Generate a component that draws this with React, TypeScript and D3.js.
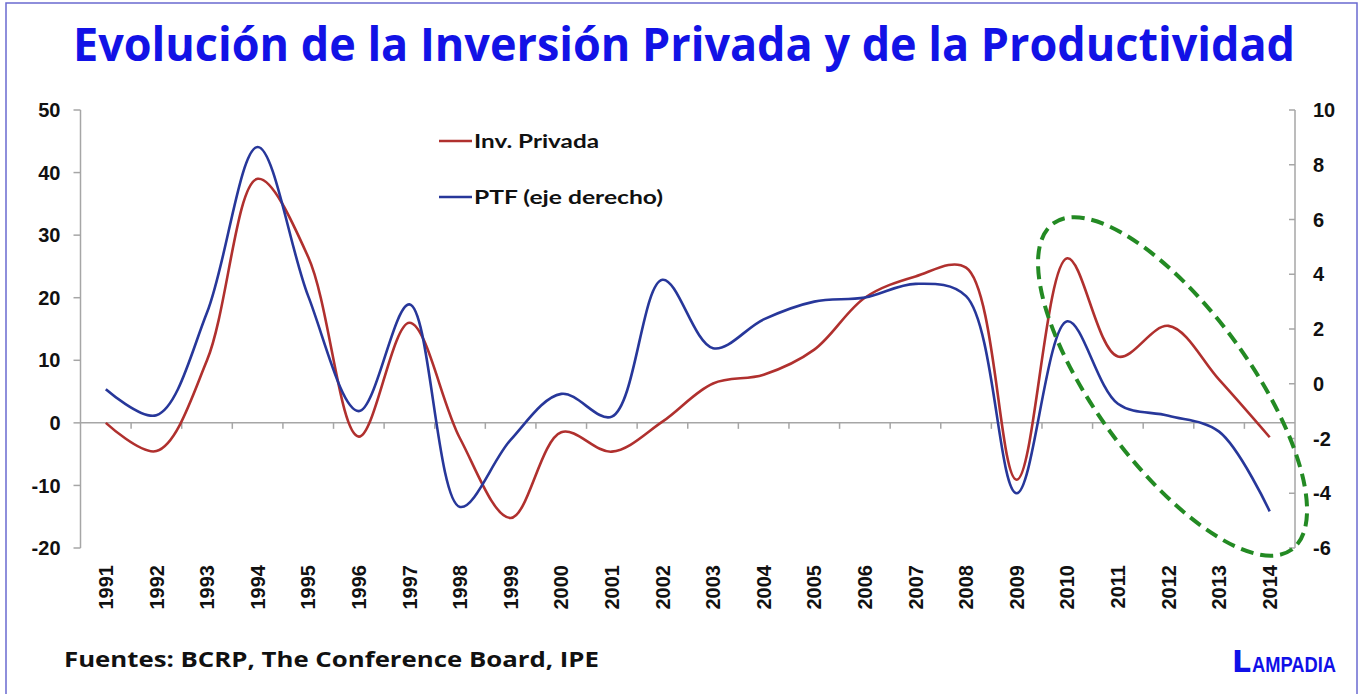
import React from "react";
import * as d3 from "d3";

const years = [
  "1991", "1992", "1993", "1994", "1995", "1996", "1997", "1998", "1999", "2000", "2001", "2002",
  "2003", "2004", "2005", "2006", "2007", "2008", "2009", "2010", "2011", "2012", "2013", "2014",
];

// Inversión privada, % var. (eje izquierdo)
const invPrivada = [
  0, -4.5, 10, 39, 26.5, -2.2, 16, -2.5, -15.2, -1.5, -4.6, 0.2,
  6.3, 7.7, 11.7, 20, 23.4, 24.8, -9.1, 26.3, 10.6, 15.5, 6.9, -2.3,
];

// PTF (eje derecho)
const ptf = [
  -0.2, -1.15, 2.6, 8.65, 3.2, -1.0, 2.9, -4.5, -2.05, -0.37, -1.2, 3.8,
  1.3, 2.35, 3.0, 3.15, 3.65, 3.2, -4.0, 2.28, -0.73, -1.17, -1.75, -4.66,
];

const leftTicks = [-20, -10, 0, 10, 20, 30, 40, 50];
const rightTicks = [-6, -4, -2, 0, 2, 4, 6, 8, 10];

const W = 1363;
const H = 694;
const RED = "#b0302e";
const BLUE = "#27379a";
const AXIS = "#a6a6a6";
const TICK_FONT = "'Liberation Sans', Arial, sans-serif";

const App: React.FC = () => {
  const left = 80.5;
  const right = 1295;
  const top = 110;
  const bottom = 548;

  const x = d3.scaleBand<string>().domain(years).range([left, right]).padding(0);
  const xc = (yr: string) => (x(yr) ?? 0) + x.bandwidth() / 2;
  const yL = d3.scaleLinear().domain([-20, 50]).range([bottom, top]);
  const yR = d3.scaleLinear().domain([-6, 10]).range([bottom, top]);

  const curve = d3.curveCatmullRom.alpha(0.5);
  const redLine = d3
    .line<number>()
    .x((_, i) => xc(years[i]))
    .y((d) => yL(d))
    .curve(curve);
  const blueLine = d3
    .line<number>()
    .x((_, i) => xc(years[i]))
    .y((d) => yR(d))
    .curve(curve);

  const zeroY = yL(0);

  // elipse de resalte 2010-2014
  const ex = xc("2012") + x.bandwidth() * 0.08;
  const ey = yR(-0.1);

  return (
    <svg
      width={W}
      height={H}
      style={{ position: "absolute", left: 0, top: 0, background: "#fff" }}
    >
      <rect x={6} y={3} width={1351} height={H + 10} fill="#fff" stroke="#6a6ad0" strokeWidth={1.5} />

      <text
        x={73}
        y={61}
        fontFamily="'Open Sans', 'Noto Sans', sans-serif"
        fontWeight={700}
        fontSize={46}
        fill="#1212e6"
        textLength={1222}
        lengthAdjust="spacingAndGlyphs"
      >
        Evolución de la Inversión Privada y de la Productividad
      </text>

      {/* eje izquierdo */}
      <line x1={left} x2={left} y1={top} y2={bottom} stroke={AXIS} strokeWidth={1.5} />
      {leftTicks.map((t) => (
        <g key={"l" + t}>
          <line x1={left - 7} x2={left} y1={yL(t)} y2={yL(t)} stroke={AXIS} strokeWidth={1.5} />
          <text
            x={left - 20}
            y={yL(t)}
            dy="0.36em"
            textAnchor="end"
            fontFamily={TICK_FONT}
            fontWeight="bold"
            fontSize={20}
            fill="#111"
          >
            {t}
          </text>
        </g>
      ))}

      {/* eje derecho */}
      <line x1={right} x2={right} y1={top} y2={bottom} stroke={AXIS} strokeWidth={1.5} />
      {rightTicks.map((t) => (
        <g key={"r" + t}>
          <line x1={right - 6} x2={right} y1={yR(t)} y2={yR(t)} stroke={AXIS} strokeWidth={1.5} />
          <text
            x={right + 18}
            y={yR(t)}
            dy="0.36em"
            textAnchor="start"
            fontFamily={TICK_FONT}
            fontWeight="bold"
            fontSize={20}
            fill="#111"
          >
            {t}
          </text>
        </g>
      ))}

      {/* eje x en cero */}
      <line x1={left} x2={right} y1={zeroY} y2={zeroY} stroke={AXIS} strokeWidth={1.5} />
      {years.slice(1).map((yr) => (
        <line
          key={"xt" + yr}
          x1={x(yr)}
          x2={x(yr)}
          y1={zeroY}
          y2={zeroY + 6}
          stroke={AXIS}
          strokeWidth={1.5}
        />
      ))}
      {years.map((yr) => (
        <text
          key={"xl" + yr}
          transform={`translate(${xc(yr)},565) rotate(-90)`}
          dy="0.36em"
          textAnchor="end"
          fontFamily={TICK_FONT}
          fontWeight="bold"
          fontSize={20}
          fill="#111"
        >
          {yr}
        </text>
      ))}

      {/* series */}
      <path d={redLine(invPrivada) ?? ""} fill="none" stroke={RED} strokeWidth={2.6} />
      <path d={blueLine(ptf) ?? ""} fill="none" stroke={BLUE} strokeWidth={2.6} />

      <ellipse
        cx={ex}
        cy={ey}
        rx={202}
        ry={77}
        transform={`rotate(53.8 ${ex} ${ey})`}
        fill="none"
        stroke="#238a23"
        strokeWidth={4}
        strokeDasharray="13 7"
      />

      {/* leyenda */}
      <line x1={439} x2={472} y1={141} y2={141} stroke={RED} strokeWidth={2.6} />
      <text
        x={474}
        y={141}
        dy="0.36em"
        fontFamily="Lato, 'Liberation Sans', sans-serif"
        fontWeight="bold"
        fontSize={19}
        fill="#111"
        textLength={125}
        lengthAdjust="spacingAndGlyphs"
      >
        Inv. Privada
      </text>
      <line x1={439} x2={472} y1={197} y2={197} stroke={BLUE} strokeWidth={2.6} />
      <text
        x={474}
        y={197}
        dy="0.36em"
        fontFamily="Lato, 'Liberation Sans', sans-serif"
        fontWeight="bold"
        fontSize={19}
        fill="#111"
        textLength={189}
        lengthAdjust="spacingAndGlyphs"
      >
        PTF (eje derecho)
      </text>

      {/* pie */}
      <text
        x={64}
        y={667}
        fontFamily="'Open Sans', 'Noto Sans', sans-serif"
        fontWeight="bold"
        fontSize={21}
        fill="#111"
        textLength={535}
        lengthAdjust="spacingAndGlyphs"
      >
        Fuentes: BCRP, The Conference Board, IPE
      </text>
      <text
        x={1232}
        y={672}
        fontFamily="'DejaVu Sans', 'Liberation Sans', sans-serif"
        fontWeight="bold"
        fontSize={30}
        fill="#1010e8"
        textLength={19}
        lengthAdjust="spacingAndGlyphs"
      >
        L
      </text>
      <text
        transform="translate(1252,672) scale(1,1.3)"
        fontFamily="'Liberation Sans', Arial, sans-serif"
        fontWeight="bold"
        fontSize={17}
        fill="#1010e8"
        textLength={84}
        lengthAdjust="spacingAndGlyphs"
      >
        AMPADIA
      </text>
    </svg>
  );
};

export default App;
